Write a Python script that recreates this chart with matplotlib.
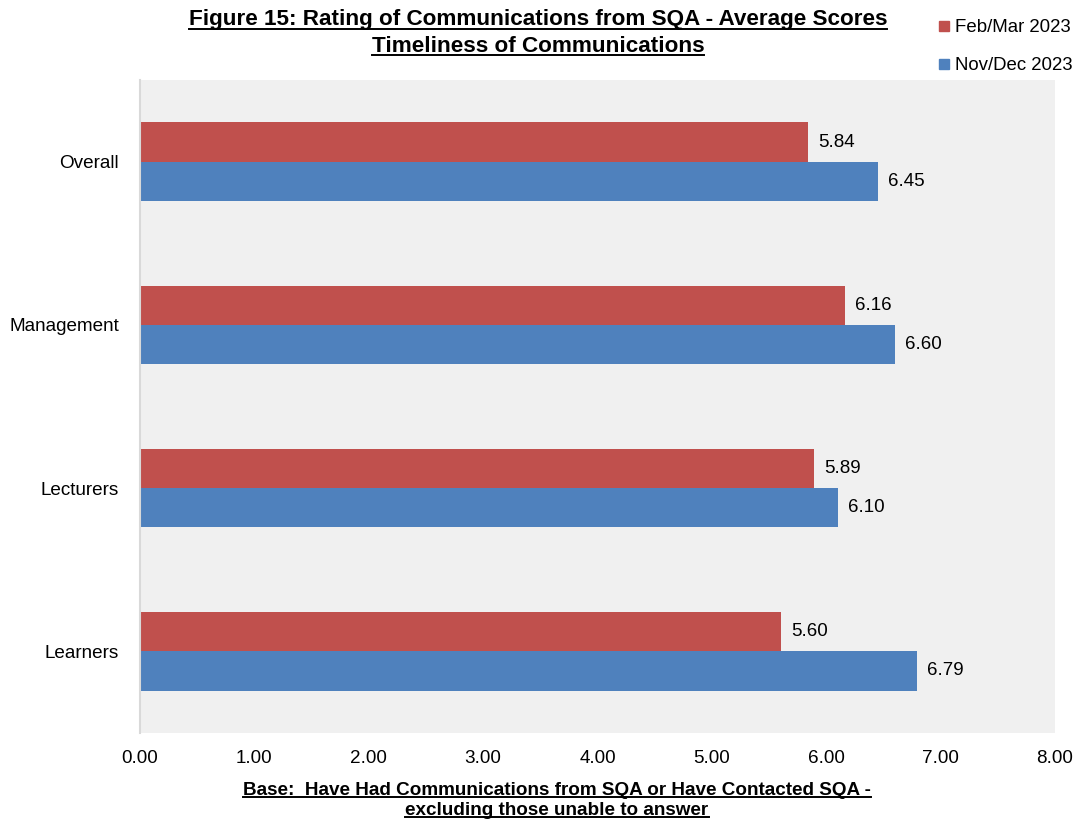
import matplotlib
matplotlib.use("Agg")
import matplotlib.pyplot as plt
from matplotlib.lines import Line2D
import numpy as np

categories = ["Overall", "Management", "Lecturers", "Learners"]
feb_mar_2023 = [5.84, 6.16, 5.89, 5.60]
nov_dec_2023 = [6.45, 6.60, 6.10, 6.79]
series_names = ["Feb/Mar 2023", "Nov/Dec 2023"]
x_ticks = [0, 1, 2, 3, 4, 5, 6, 7, 8]
title_lines = ["Figure 15: Rating of Communications from SQA - Average Scores",
               "Timeliness of Communications"]
caption_lines = ["Base:  Have Had Communications from SQA or Have Contacted SQA -",
                 "excluding those unable to answer"]

RED = "#C0504D"
BLUE = "#4F81BD"
plt.rcParams['font.family'] = ['Liberation Sans', 'DejaVu Sans']

fig = plt.figure(figsize=(10.76, 8.21), dpi=100)
ax = fig.add_axes([140/1076, 1-733/821, (1055-140)/1076, (733-80)/821])
ax.set_facecolor("#F0F0F0")

y = np.arange(len(categories))
h = 0.24
ax.barh(y - h/2, feb_mar_2023, height=h, color=RED, label=series_names[0])
ax.barh(y + h/2, nov_dec_2023, height=h, color=BLUE, label=series_names[1])
for yi, v in zip(y, feb_mar_2023):
    ax.text(v + 0.09, yi - h/2, f"{v:.2f}", va="center", ha="left", fontsize=13.5)
for yi, v in zip(y, nov_dec_2023):
    ax.text(v + 0.09, yi + h/2, f"{v:.2f}", va="center", ha="left", fontsize=13.5)

ax.set_ylim(len(categories) - 0.5, -0.5)
ax.set_xlim(0, 8)
ax.set_yticks(y)
ax.set_yticklabels(categories, fontsize=13.6)
ax.set_xticks(x_ticks)
ax.set_xticklabels([f"{t:.2f}" for t in x_ticks], fontsize=13.6)
ax.tick_params(axis="both", length=0)
ax.tick_params(axis="y", pad=15)
ax.tick_params(axis="x", pad=12)
for s in ["top", "right", "bottom"]:
    ax.spines[s].set_visible(False)
ax.spines["left"].set_color("#D9D9D9")
ax.spines["left"].set_linewidth(1.5)

handles = [Line2D([], [], marker="s", linestyle="none", color=RED, markersize=7),
           Line2D([], [], marker="s", linestyle="none", color=BLUE, markersize=7)]
fig.legend(handles, series_names, loc="upper left", bbox_to_anchor=(938/1076, 1-19/821),
           frameon=False, fontsize=13.4, handlelength=0.6, handletextpad=0.3,
           labelspacing=1.15, borderaxespad=0, borderpad=0)

texts = []
texts.append(fig.text(538/1076, 1-20/821, title_lines[0], ha="center", va="center",
                      fontsize=16.2, fontweight="bold"))
texts.append(fig.text(538/1076, 1-46/821, title_lines[1], ha="center", va="center",
                      fontsize=16.2, fontweight="bold"))
texts.append(fig.text(557/1076, 1-790/821, caption_lines[0], ha="center", va="center",
                      fontsize=13.6, fontweight="bold"))
texts.append(fig.text(557/1076, 1-810/821, caption_lines[1], ha="center", va="center",
                      fontsize=13.6, fontweight="bold"))

fig.canvas.draw()
r = fig.canvas.get_renderer()
for t in texts:
    bb = t.get_window_extent(r)
    W, H = fig.bbox.width, fig.bbox.height
    yl = bb.y0 + 1.5
    fig.add_artist(Line2D([bb.x0/W, bb.x1/W], [yl/H, yl/H], color="black", linewidth=1.4,
                          transform=fig.transFigure))

fig.savefig("out.png", dpi=100)
